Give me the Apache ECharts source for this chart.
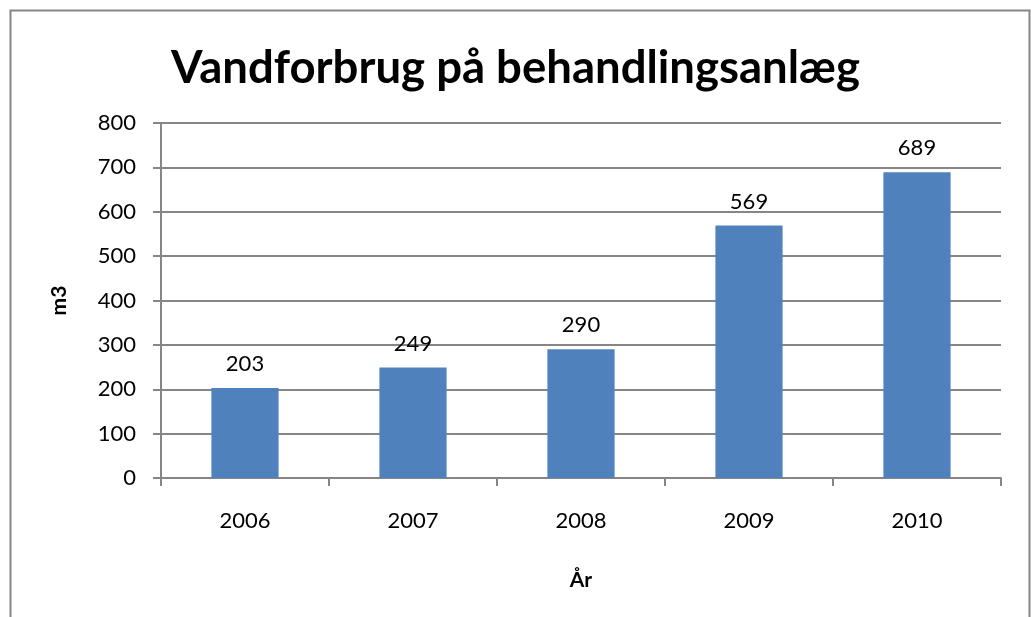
<!DOCTYPE html>
<html>
<head>
<meta charset="utf-8">
<script src="https://cdn.jsdelivr.net/npm/echarts@6/dist/echarts.min.js"></script>
<style>
  html, body { margin: 0; padding: 0; background: #fff; }
  #chart { width: 1031px; height: 617px; }
</style>
</head>
<body>
<div id="chart"></div>
<script>
// data
const years = ['2006', '2007', '2008', '2009', '2010'];
const forbrug = [203, 249, 290, 569, 689];

const font = 'Lato, "Open Sans", sans-serif';
const gray = '#868686';

const chart = echarts.init(document.getElementById('chart'));
chart.setOption({
  backgroundColor: '#fff',
  animation: false,
  graphic: [{
    type: 'rect',
    shape: { x: 10.5, y: 10.5, width: 1019, height: 640 },
    style: { fill: 'none', stroke: gray, lineWidth: 2 },
    silent: true
  }],
  title: {
    text: 'Vandforbrug på behandlingsanlæg',
    left: 'center',
    top: 40,
    textStyle: { fontFamily: font, fontSize: 45.5, fontWeight: 'bold', color: '#000' }
  },
  grid: { left: 161, right: 30, top: 123, bottom: 139, containLabel: false },
  xAxis: {
    type: 'category',
    data: years,
    name: 'År',
    nameLocation: 'middle',
    nameGap: 92,
    nameTextStyle: { fontFamily: font, fontSize: 21, fontWeight: 'bold', color: '#000' },
    axisLine: { lineStyle: { color: gray, width: 2 } },
    axisTick: { show: true, length: 8, lineStyle: { color: gray, width: 2 } },
    axisLabel: { margin: 32, fontFamily: font, fontSize: 22, color: '#000' }
  },
  yAxis: {
    type: 'value',
    min: 0,
    max: 800,
    interval: 100,
    name: 'm3',
    nameLocation: 'middle',
    nameGap: 91,
    nameRotate: 90,
    nameTextStyle: { fontFamily: font, fontSize: 21, fontWeight: 'bold', color: '#000' },
    axisLine: { show: true, lineStyle: { color: gray, width: 2 } },
    axisTick: { show: true, length: 8, lineStyle: { color: gray, width: 2 } },
    splitLine: { lineStyle: { color: gray, width: 2 } },
    axisLabel: { margin: 25, fontFamily: font, fontSize: 22, color: '#000' }
  },
  series: [{
    type: 'bar',
    data: forbrug,
    barWidth: '40%',
    itemStyle: { color: '#4f81bd' },
    label: {
      show: true,
      position: 'top',
      distance: 13,
      fontFamily: font,
      fontSize: 22,
      color: '#000'
    }
  }]
});
</script>
</body>
</html>
